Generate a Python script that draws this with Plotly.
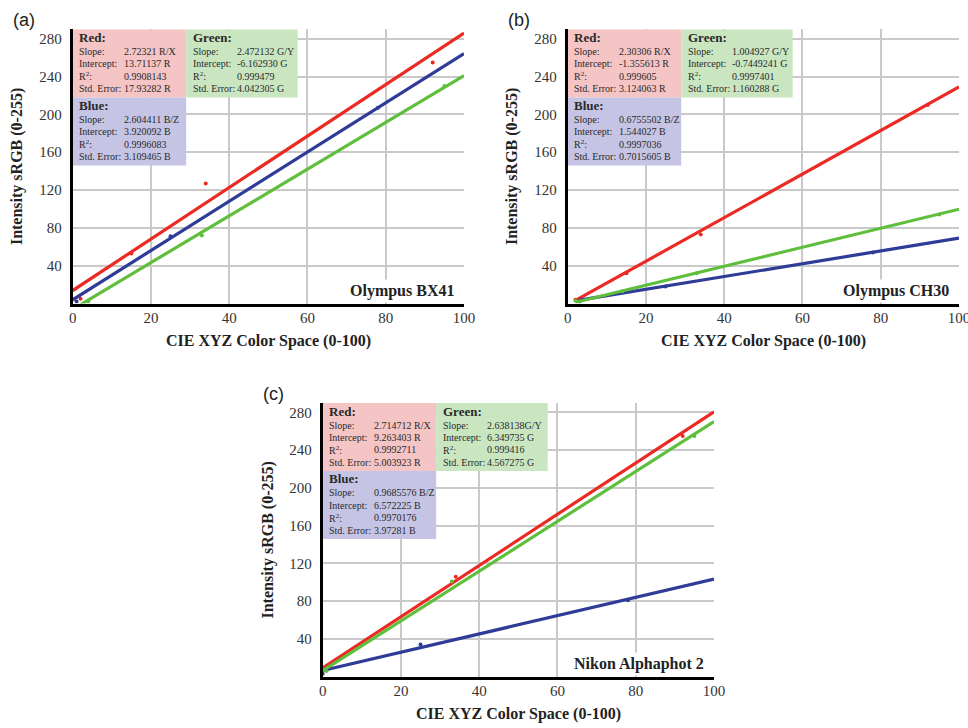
import plotly.graph_objects as go

# ---------------- data ----------------
x_ticks = [0, 20, 40, 60, 80, 100]
y_ticks = [40, 80, 120, 160, 200, 240, 280]
panel_labels = ["(a)", "(b)", "(c)"]
devices = ["Olympus BX41", "Olympus CH30", "Nikon Alphaphot 2"]
channels = ["Red", "Green", "Blue"]
x_title = "CIE XYZ Color Space (0-100)"
y_title = "Intensity sRGB (0-255)"
stat_labels = ["Slope:", "Intercept:", "R<sup>2</sup>:", "Std. Error:"]

# fitted regression parameters (Red, Green, Blue)
a_slope = [2.72321, 2.472132, 2.604411]
a_intercept = [13.71137, -6.162930, 3.920092]
b_slope = [2.30306, 1.004927, 0.6755502]
b_intercept = [-1.355613, -0.7449241, 1.544027]
c_slope = [2.714712, 2.638138, 0.9685576]
c_intercept = [9.263403, 6.349735, 6.572225]

# statistics text shown in the boxes (Red, Green, Blue)
a_stats_red = ["2.72321 R/X", "13.71137 R", "0.9908143", "17.93282 R"]
a_stats_green = ["2.472132 G/Y", "-6.162930 G", "0.999479", "4.042305 G"]
a_stats_blue = ["2.604411 B/Z", "3.920092 B", "0.9996083", "3.109465 B"]
b_stats_red = ["2.30306 R/X", "-1.355613 R", "0.999605", "3.124063 R"]
b_stats_green = ["1.004927 G/Y", "-0.7449241 G", "0.9997401", "1.160288 G"]
b_stats_blue = ["0.6755502 B/Z", "1.544027 B", "0.9997036", "0.7015605 B"]
c_stats_red = ["2.714712 R/X", "9.263403 R", "0.9992711", "5.003923 R"]
c_stats_green = ["2.638138G/Y", "6.349735 G", "0.999416", "4.567275 G"]
c_stats_blue = ["0.9685576 B/Z", "6.572225 B", "0.9970176", "3.97281 B"]

# measured points (CIE XYZ value, sRGB intensity)
a_red_x = [2, 15, 34, 92]
a_red_y = [5, 53, 127, 255]
a_green_x = [4, 33, 95]
a_green_y = [2, 72, 230]
a_blue_x = [1, 25, 78]
a_blue_y = [2, 71, 207]
b_red_x = [2, 15, 34, 92]
b_red_y = [4, 32, 73, 210]
b_green_x = [2, 14, 33, 95]
b_green_y = [3, 13, 32, 94]
b_blue_x = [3, 25, 78]
b_blue_y = [2, 18, 54]
c_red_x = [1, 34, 92]
c_red_y = [8, 106, 255]
c_green_x = [1, 33, 95]
c_green_y = [6, 101, 255]
c_blue_x = [0, 25, 78]
c_blue_y = [3, 34, 81]

# start of each fitted line on the x axis (Red, Green, Blue)
a_fit_start = [0, 0, 0]
b_fit_start = [2, 2, 3]
c_fit_start = [0, 0, 0]

# ---------------- styling ----------------
FW, FH = 968, 728
line_colors = ["#ec2a24", "#5fbf3d", "#2e3c98"]
box_colors = ["#f5c4c4", "#c9e6c1", "#c6c4e4"]
serif = "Liberation Serif, Times New Roman, serif"
text_col = "#2a2a2a"


def px_x(v):
    return v / FW


def px_y(v):
    return 1 - v / FH


# plot-area pixel geometry: left, right, top, bottom
geo = [(72.7, 464.0, 29.3, 303.5), (567.7, 959.0, 29.3, 303.5), (322.7, 714.0, 403.0, 676.7)]
y_max = 290
# boxes in axis units: x0, x1, y0, y1
box_geo = [(0, 29, 218, y_max), (29, 57.5, 218, y_max), (0, 29, 146, 218)]

panels = [
    dict(slope=a_slope, inter=a_intercept, stats=[a_stats_red, a_stats_green, a_stats_blue],
         px=[a_red_x, a_green_x, a_blue_x], py=[a_red_y, a_green_y, a_blue_y], start=a_fit_start),
    dict(slope=b_slope, inter=b_intercept, stats=[b_stats_red, b_stats_green, b_stats_blue],
         px=[b_red_x, b_green_x, b_blue_x], py=[b_red_y, b_green_y, b_blue_y], start=b_fit_start),
    dict(slope=c_slope, inter=c_intercept, stats=[c_stats_red, c_stats_green, c_stats_blue],
         px=[c_red_x, c_green_x, c_blue_x], py=[c_red_y, c_green_y, c_blue_y], start=c_fit_start),
]

fig = go.Figure()
shapes, annots = [], []
layout_axes = {}
draw_order = [0, 2, 1]

for i, p in enumerate(panels):
    l, r, t, b = geo[i]
    suffix = "" if i == 0 else str(i + 1)
    xr, yr = "x" + suffix, "y" + suffix
    ux = 100.0 / (r - l)      # axis units per pixel
    uy = y_max / (b - t)
    layout_axes["xaxis" + suffix] = dict(
        domain=[px_x(l), px_x(r)], range=[0, 100], anchor=yr, automargin=False,
        tickvals=x_ticks, showgrid=True, gridcolor="#c9c9c9", gridwidth=2,
        showline=True, linecolor="black", linewidth=3, zeroline=False,
        ticks="", ticklabelstandoff=-2, ticklabeloverflow="allow",
        tickfont=dict(family=serif, size=15, color="#333"), fixedrange=True)
    layout_axes["yaxis" + suffix] = dict(
        domain=[px_y(b), px_y(t)], range=[0, y_max], anchor=xr, automargin=False,
        tickvals=y_ticks, showgrid=True, gridcolor="#c9c9c9", gridwidth=2,
        showline=True, linecolor="black", linewidth=3, zeroline=False,
        ticks="", ticklabelstandoff=5,
        tickfont=dict(family=serif, size=15, color="#333"), fixedrange=True)

    for c in draw_order:
        x0 = p["start"][c]
        xs = [x0, 100]
        ys = [p["slope"][c] * v + p["inter"][c] for v in xs]
        fig.add_trace(go.Scatter(x=xs, y=ys, mode="lines", xaxis=xr, yaxis=yr,
                                 line=dict(color=line_colors[c], width=3.2),
                                 showlegend=False, hoverinfo="skip"))
        fig.add_trace(go.Scatter(x=p["px"][c], y=p["py"][c], mode="markers",
                                 xaxis=xr, yaxis=yr,
                                 marker=dict(color=line_colors[c], size=4),
                                 showlegend=False))

    # statistics boxes
    for c in range(3):
        bx0, bx1, by0, by1 = box_geo[c]
        shapes.append(dict(type="rect", xref=xr, yref=yr, x0=bx0, x1=bx1, y0=by0, y1=by1,
                           fillcolor=box_colors[c], line=dict(width=0), layer="between"))
        annots.append(dict(xref=xr, yref=yr, x=bx0 + 4.5 * ux, y=by1 - 8 * uy,
                           text="<b>" + channels[c] + ":</b>", showarrow=False,
                           xanchor="left", yanchor="middle",
                           font=dict(family=serif, size=13, color=text_col)))
        for k in range(4):
            yy = by1 - (22 + 12.4 * k) * uy
            annots.append(dict(xref=xr, yref=yr, x=bx0 + 4.5 * ux, y=yy,
                               text=stat_labels[k], showarrow=False,
                               xanchor="left", yanchor="middle",
                               font=dict(family=serif, size=10, color=text_col)))
            annots.append(dict(xref=xr, yref=yr, x=bx0 + 49 * ux, y=yy,
                               text=p["stats"][c][k], showarrow=False,
                               xanchor="left", yanchor="middle",
                               font=dict(family=serif, size=10, color=text_col)))

    # device label
    annots.append(dict(xref=xr, yref=yr, x=98.3, y=13, text="<b>" + devices[i] + "</b>",
                       showarrow=False, xanchor="right", yanchor="middle",
                       bgcolor="white", borderpad=2,
                       font=dict(family=serif, size=16, color="#222")))
    # axis titles
    xt_y = min(b + 37, 717)
    annots.append(dict(xref="paper", yref="paper", x=px_x((l + r) / 2), y=px_y(xt_y),
                       text="<b>" + x_title + "</b>", showarrow=False,
                       xanchor="center", yanchor="middle",
                       font=dict(family=serif, size=16, color="#222")))
    annots.append(dict(xref="paper", yref="paper", x=px_x(l - 55), y=px_y((t + b) / 2),
                       text="<b>" + y_title + "</b>", showarrow=False, textangle=-90,
                       xanchor="center", yanchor="middle",
                       font=dict(family=serif, size=16, color="#222")))
    # panel label
    annots.append(dict(xref="paper", yref="paper", x=px_x(l - 62), y=px_y(t - 9),
                       text=panel_labels[i], showarrow=False,
                       xanchor="left", yanchor="middle",
                       font=dict(family="Liberation Sans, Arial, sans-serif", size=18, color="#222")))

fig.update_layout(width=FW, height=FH, margin=dict(l=0, r=0, t=0, b=0, autoexpand=False),
                  paper_bgcolor="white", plot_bgcolor="white",
                  shapes=shapes, annotations=annots, **layout_axes)
fig.write_html("out.html", config={"displayModeBar": False},
               post_script="document.body.style.margin='0';document.body.style.overflow='hidden';")
